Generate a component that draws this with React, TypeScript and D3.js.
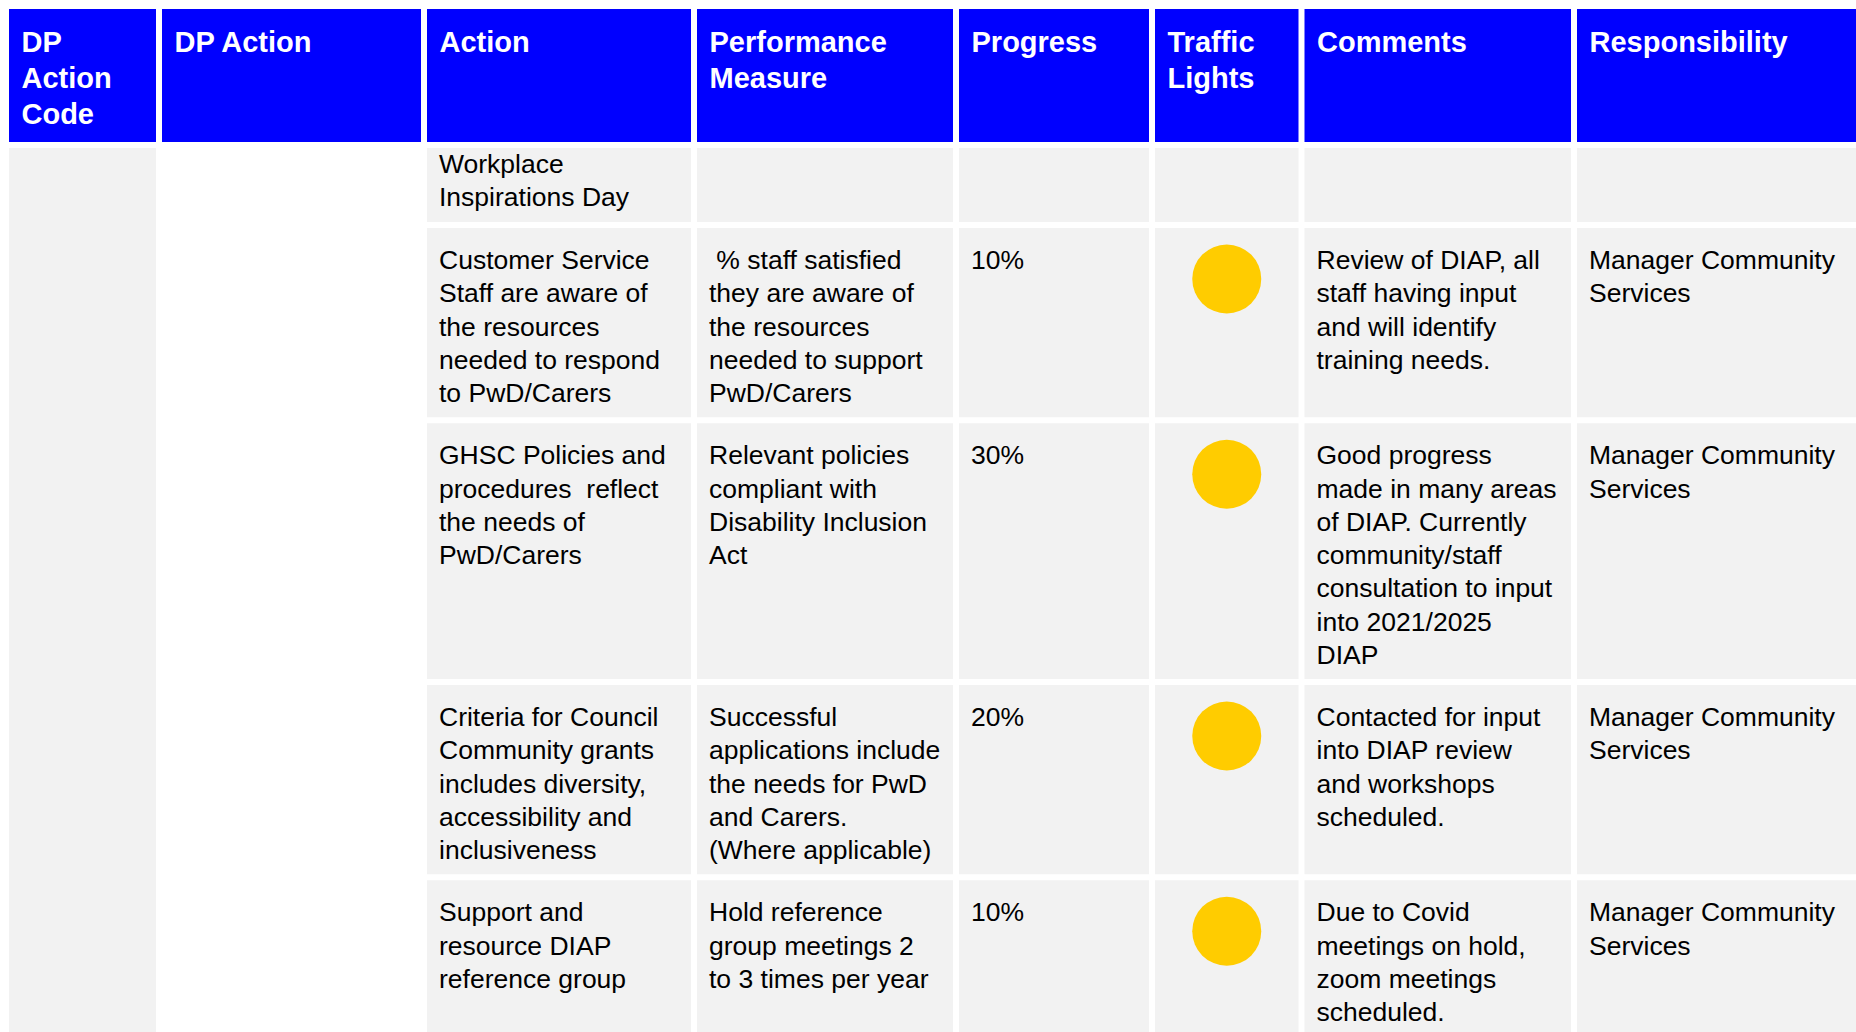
import * as d3 from "d3"

// header labels, one entry per column (already broken into lines)
const headers = [
  ["DP", "Action", "Code"],
  ["DP Action"],
  ["Action"],
  ["Performance", "Measure"],
  ["Progress"],
  ["Traffic", "Lights"],
  ["Comments"],
  ["Responsibility"],
]

const actions = [
  ["Workplace", "Inspirations Day"],
  ["Customer Service", "Staff are aware of", "the resources", "needed to respond", "to PwD/Carers"],
  ["GHSC Policies and", "procedures  reflect", "the needs of", "PwD/Carers"],
  ["Criteria for Council", "Community grants", "includes diversity,", "accessibility and", "inclusiveness"],
  ["Support and", "resource DIAP", "reference group"],
]

const measures = [
  [],
  [" % staff satisfied", "they are aware of", "the resources", "needed to support", "PwD/Carers"],
  ["Relevant policies", "compliant with", "Disability Inclusion", "Act"],
  ["Successful", "applications include", "the needs for PwD", "and Carers.", "(Where applicable)"],
  ["Hold reference", "group meetings 2", "to 3 times per year"],
]

const progress = ["", "10%", "30%", "20%", "10%"]

const trafficLights = ["", "amber", "amber", "amber", "amber"]

const comments = [
  [],
  ["Review of DIAP, all", "staff having input", "and will identify", "training needs."],
  ["Good progress", "made in many areas", "of DIAP. Currently", "community/staff", "consultation to input", "into 2021/2025", "DIAP"],
  ["Contacted for input", "into DIAP review", "and workshops", "scheduled."],
  ["Due to Covid", "meetings on hold,", "zoom meetings", "scheduled."],
]

const responsibility = [
  [],
  ["Manager Community", "Services"],
  ["Manager Community", "Services"],
  ["Manager Community", "Services"],
  ["Manager Community", "Services"],
]

const W = 1856
const H = 1032
const FONT = "'Liberation Sans', Arial, sans-serif"
const BLUE = "#0000ff"
const GREY = "#f2f2f2"
const LIGHT = { amber: "#ffcc00", green: "#00b050", red: "#ff0000" } as Record<string, string>

// grid geometry
const colWidths = [153, 265, 270, 262, 196, 149.5, 272.5, 290]
const x0 = 6
const y0 = 6
const headerH = 139
const inset = 3
const lineH = 33.25
const headLineH = 36

export default function App() {
  const colX = [x0, ...d3.cumsum(colWidths).map((c) => x0 + c)]

  // each row is as tall as its longest cell; the first row continues from a previous page
  const rowLines = actions.map((_, i) =>
    d3.max([actions[i], measures[i], comments[i], responsibility[i]], (c) => c.length) || 1
  )
  const rowH = rowLines.map((n, i) => (i === 0 ? n * lineH + 13.5 : n * lineH + 29))
  const rowY = [y0 + headerH, ...d3.cumsum(rowH).map((c) => y0 + headerH + c)]

  const cellCols: string[][][] = actions.map((_, i) => [
    [],
    [],
    actions[i],
    measures[i],
    progress[i] ? [progress[i]] : [],
    [],
    comments[i],
    responsibility[i],
  ])

  return (
    <svg
      width={W}
      height={H}
      style={{ position: "absolute", left: 0, top: 0, background: "#fff", overflow: "hidden" }}
      fontFamily={FONT}
    >
      {/* header */}
      {headers.map((lines, c) => (
        <g key={"h" + c}>
          <rect
            x={colX[c] + inset}
            y={y0 + inset}
            width={colWidths[c] - 2 * inset}
            height={headerH - 2 * inset}
            fill={BLUE}
          />
          <text fill="#fff" fontWeight="bold" fontSize={29}>
            {lines.map((l, k) => (
              <tspan key={k} x={colX[c] + inset + 12.5} y={y0 + 46 + k * headLineH}>
                {l}
              </tspan>
            ))}
          </text>
        </g>
      ))}

      {/* merged first column */}
      <rect
        x={colX[0] + inset}
        y={rowY[0] + inset}
        width={colWidths[0] - 2 * inset}
        height={H}
        fill={GREY}
      />

      {/* body rows */}
      {cellCols.map((cells, r) => (
        <g key={"r" + r}>
          {cells.map((lines, c) =>
            c < 2 ? null : (
              <g key={c}>
                <rect
                  x={colX[c] + inset}
                  y={rowY[r] + inset}
                  width={colWidths[c] - 2 * inset}
                  height={rowH[r] - 2 * inset}
                  fill={GREY}
                />
                <text fill="#000" fontSize={26.5} style={{ whiteSpace: "pre" }}>
                  {lines.map((l, k) => (
                    <tspan
                      key={k}
                      x={colX[c] + inset + 12}
                      y={rowY[r] + (r === 0 ? 28 : 44) + k * lineH}
                    >
                      {l}
                    </tspan>
                  ))}
                </text>
              </g>
            )
          )}
          {trafficLights[r] ? (
            <circle
              cx={colX[5] + colWidths[5] / 2}
              cy={rowY[r] + 54}
              r={34.5}
              fill={LIGHT[trafficLights[r]]}
            />
          ) : null}
        </g>
      ))}
    </svg>
  )
}
